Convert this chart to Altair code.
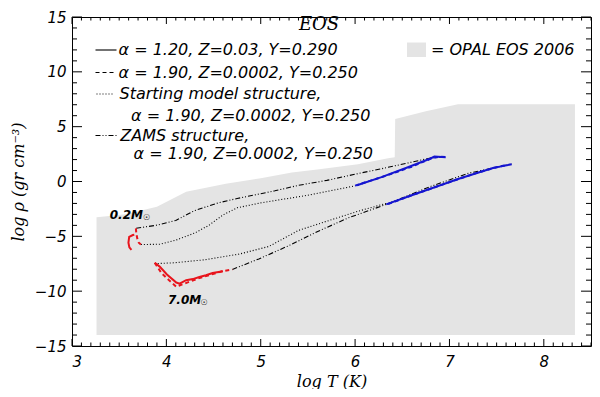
import altair as alt
import pandas as pd

# ---------------- data ----------------
# OPAL EOS 2006 coverage: upper boundary (log rho) vs log T, bottom edge
opal_logT = [3.26, 3.45, 3.58, 3.9, 4.21, 4.63, 5.0, 5.33, 5.6, 6.03, 6.35, 6.42, 6.425, 6.75, 7.09, 8.33]
opal_top = [-3.25, -3.1, -2.96, -2.3, -0.93, -0.20, 0.3, 0.81, 1.1, 1.57, 2.12, 2.2, 5.7, 6.4, 7.05, 7.05]
opal_bottom = -14.0

# red = low-T parts, blue = high-T parts; solid: alpha=1.20, dashed: alpha=1.90
red_sol_02_T = [3.66, 3.645, 3.606, 3.598, 3.608, 3.63]
red_sol_02_R = [-4.85, -4.88, -5.05, -5.58, -6.01, -6.23]
red_das_02_T = [3.677, 3.682, 3.693, 3.708, 3.73]
red_das_02_R = [-4.27, -4.79, -5.23, -5.58, -5.75]
red_sol_7_T = [3.877, 3.929, 4.006, 4.105, 4.14, 4.21, 4.28, 4.35, 4.42, 4.49, 4.60]
red_sol_7_R = [-7.41, -7.76, -8.48, -9.21, -9.32, -9.0, -8.9, -8.71, -8.55, -8.34, -8.19]
red_das_7_T = [3.877, 3.947, 4.035, 4.105, 4.19, 4.35, 4.59, 4.70]
red_das_7_R = [-7.41, -8.34, -9.06, -9.59, -9.32, -8.80, -8.19, -8.02]
blue_sol_up_T = [6.02, 6.28, 6.56, 6.80, 6.84, 6.96]
blue_sol_up_R = [-0.34, 0.40, 1.30, 2.10, 2.27, 2.21]
blue_das_up_T = [6.00, 6.30, 6.60, 6.82, 6.90, 6.98]
blue_das_up_R = [-0.38, 0.45, 1.35, 2.15, 2.25, 2.23]
blue_sol_lo_T = [6.33, 6.60, 6.85, 7.10, 7.30, 7.47, 7.55, 7.62]
blue_sol_lo_R = [-2.09, -1.25, -0.50, 0.25, 0.80, 1.25, 1.38, 1.50]
blue_das_lo_T = [6.35, 6.62, 6.88, 7.12, 7.32, 7.50, 7.58, 7.66]
blue_das_lo_R = [-2.05, -1.20, -0.42, 0.30, 0.86, 1.30, 1.45, 1.58]

# black: starting model structure (dotted) and ZAMS structure (dash-dot)
start_02_T = [3.73, 3.93, 4.10, 4.30, 4.45, 4.60, 4.75, 5.00, 5.50, 6.00]
start_02_R = [-5.75, -5.72, -5.35, -4.70, -4.00, -3.05, -2.40, -1.95, -1.25, -0.40]
start_7_T = [3.877, 4.087, 4.403, 4.771, 5.087, 5.403, 5.719, 6.035, 6.329]
start_7_R = [-7.49, -7.41, -7.14, -6.62, -5.92, -4.45, -3.57, -2.70, -2.00]
zams_02_T = [3.68, 3.90, 4.10, 4.30, 4.55, 4.75, 5.15, 5.40, 5.70, 6.03, 6.30, 6.56, 6.80, 6.95]
zams_02_R = [-4.27, -3.98, -3.55, -2.65, -1.95, -1.55, -0.85, -0.35, 0.10, 0.72, 1.20, 1.69, 2.15, 2.27]
zams_7_T = [4.70, 4.98, 5.30, 5.61, 5.93, 6.33, 6.80, 7.20, 7.50, 7.66]
zams_7_R = [-8.02, -7.06, -5.84, -4.53, -3.31, -2.09, -0.45, 0.75, 1.30, 1.60]

# axis ticks
x_major = [3, 4, 5, 6, 7, 8]
x_minor = [round(3 + 0.1 * k, 1) for k in range(1, 56) if k % 10]
y_major = [-15, -10, -5, 0, 5, 10, 15]
y_minor = [v for v in range(-15, 16) if v % 5]

# annotations
mass_labels = ["0.2M", "7.0M"]
mass_label_T = [3.40, 4.017]
mass_label_R = [-3.02, -10.8]
sun_T = [3.79, 4.40]
sun_R = [-3.3, -11.1]

# ---------------- styling / layout ----------------
W, H = 519, 329
RED = "#e8141c"
BLUE = "#1515d0"
GRAY = "#e4e4e4"
SANS = "DejaVu Sans"
SERIF = "DejaVu Serif"
DOT = [1, 2]
ZAMS_DASH = [5, 2, 1, 2, 1, 2]
DASH = [4, 3]

xs = alt.Scale(domain=[3, 8.5], nice=False, zero=False)
ys = alt.Scale(domain=[-15, 15], nice=False, zero=False)
xaxis = alt.Axis(values=x_major, title="log T (K)", labelPadding=8, titlePadding=4,
                 format="d")
yaxis = alt.Axis(values=y_major, title="log \u03c1 (gr cm\u207b\u00b3)", labelPadding=6,
                 titlePadding=8, format="d")


def X(f):
    return alt.X(f, type="quantitative", scale=xs, axis=xaxis)


def Y(f):
    return alt.Y(f, type="quantitative", scale=ys, axis=yaxis)


layers = []

# gray OPAL region
opal_df = pd.DataFrame({"T": opal_logT, "R": opal_top, "b": [opal_bottom] * len(opal_logT)})
layers.append(
    alt.Chart(opal_df).mark_area(color=GRAY, opacity=1).encode(
        x=X("T"), y=Y("R"), y2="b:Q")
)


def line(T, R, color, width, dash=None):
    df = pd.DataFrame({"T": T, "R": R, "i": list(range(len(T)))})
    kw = dict(color=color, strokeWidth=width)
    if dash:
        kw["strokeDash"] = dash
    return alt.Chart(df).mark_line(**kw).encode(x=X("T"), y=Y("R"), order="i:Q")


layers += [
    line(zams_02_T, zams_02_R, "black", 1.1, ZAMS_DASH),
    line(zams_7_T, zams_7_R, "black", 1.1, ZAMS_DASH),
    line(start_02_T, start_02_R, "black", 1.1, DOT),
    line(start_7_T, start_7_R, "black", 1.1, DOT),
    line(blue_das_up_T, blue_das_up_R, BLUE, 2, DASH),
    line(blue_sol_up_T, blue_sol_up_R, BLUE, 2),
    line(blue_das_lo_T, blue_das_lo_R, BLUE, 2, DASH),
    line(blue_sol_lo_T, blue_sol_lo_R, BLUE, 2),
    line(red_das_02_T, red_das_02_R, RED, 2, DASH),
    line(red_sol_02_T, red_sol_02_R, RED, 2),
    line(red_das_7_T, red_das_7_R, RED, 2, DASH),
    line(red_sol_7_T, red_sol_7_R, RED, 2),
]

# mass labels
ml_df = pd.DataFrame({"T": mass_label_T, "R": mass_label_R, "t": mass_labels})
layers.append(alt.Chart(ml_df).mark_text(
    align="left", baseline="middle", font=SANS, fontSize=12, fontStyle="italic",
    fontWeight="bold", color="black").encode(x=X("T"), y=Y("R"), text="t:N"))
sun_df = pd.DataFrame({"T": sun_T, "R": sun_R})
layers.append(alt.Chart(sun_df).mark_text(
    align="center", baseline="middle", font=SANS, fontSize=8, color="black",
    text="\u2609").encode(x=X("T"), y=Y("R")))


# inward ticks on all four sides
def ticks_x(vals, length):
    df = pd.DataFrame({"v": vals})
    bot = alt.Chart(df).mark_rule(color="black", strokeWidth=1).encode(
        x=X("v"), y=alt.value(H), y2=alt.value(H - length))
    top = alt.Chart(df).mark_rule(color="black", strokeWidth=1).encode(
        x=X("v"), y=alt.value(0), y2=alt.value(length))
    return [bot, top]


def ticks_y(vals, length):
    df = pd.DataFrame({"v": vals})
    left = alt.Chart(df).mark_rule(color="black", strokeWidth=1).encode(
        y=Y("v"), x=alt.value(0), x2=alt.value(length))
    right = alt.Chart(df).mark_rule(color="black", strokeWidth=1).encode(
        y=Y("v"), x=alt.value(W), x2=alt.value(W - length))
    return [left, right]


layers += ticks_x(x_major, 7) + ticks_x(x_minor, 3.5)
layers += ticks_y(y_major, 10) + ticks_y(y_minor, 5)

# legend (drawn in pixel space inside the plot)
one = pd.DataFrame({"a": [0]})


def ltext(txt, x, y, size=16, font=SANS, align="left"):
    return alt.Chart(one).mark_text(
        align=align, baseline="middle", font=font, fontSize=size, fontStyle="italic",
        color="black", text=txt).encode(x=alt.value(x), y=alt.value(y))


def lsample(x1, x2, y, dash=None):
    kw = dict(color="black", strokeWidth=1.1)
    if dash:
        kw["strokeDash"] = dash
    return alt.Chart(one).mark_rule(**kw).encode(
        x=alt.value(x1), x2=alt.value(x2), y=alt.value(y))


rows = [33.0, 55.5, 77.0, 98.5, 118.5, 136.5]
layers += [
    ltext("EOS", 247, 7.5, size=18, font=SERIF, align="center"),
    lsample(23.5, 44.5, rows[0]),
    ltext("\u03b1 = 1.20, Z=0.03, Y=0.290", 46.5, rows[0]),
    lsample(23.5, 44.5, rows[1], DASH),
    ltext("\u03b1 = 1.90, Z=0.0002, Y=0.250", 46.5, rows[1]),
    lsample(24.5, 41, rows[2], DOT),
    ltext("Starting model structure,", 47.5, rows[2]),
    ltext("\u03b1 = 1.90, Z=0.0002, Y=0.250", 59, rows[3]),
    lsample(23.5, 45, rows[4], ZAMS_DASH),
    ltext("ZAMS structure,", 48.3, rows[4]),
    ltext("\u03b1 = 1.90, Z=0.0002, Y=0.250", 61.6, rows[5]),
    alt.Chart(one).mark_rect(color=GRAY).encode(
        x=alt.value(335), x2=alt.value(354), y=alt.value(25.5), y2=alt.value(40.0)),
    ltext("= OPAL EOS 2006", 359, 33.0),
]

chart = alt.layer(*layers).properties(
    width=W, height=H,
    autosize=alt.AutoSizeParams(type="none"),
    padding={"left": 64, "top": 9, "right": 1, "bottom": 43},
    background="white",
).configure_view(
    stroke="black", strokeWidth=1
).configure_axis(
    grid=False, domain=False, ticks=False, tickSize=0,
    labelFont=SANS, labelFontSize=15, labelFontStyle="italic", labelColor="black",
    titleFont=SERIF, titleFontSize=16, titleFontStyle="italic", titleFontWeight="normal",
    titleColor="black",
)

chart.save("out.html", embed_options={"renderer": "svg", "actions": False})
